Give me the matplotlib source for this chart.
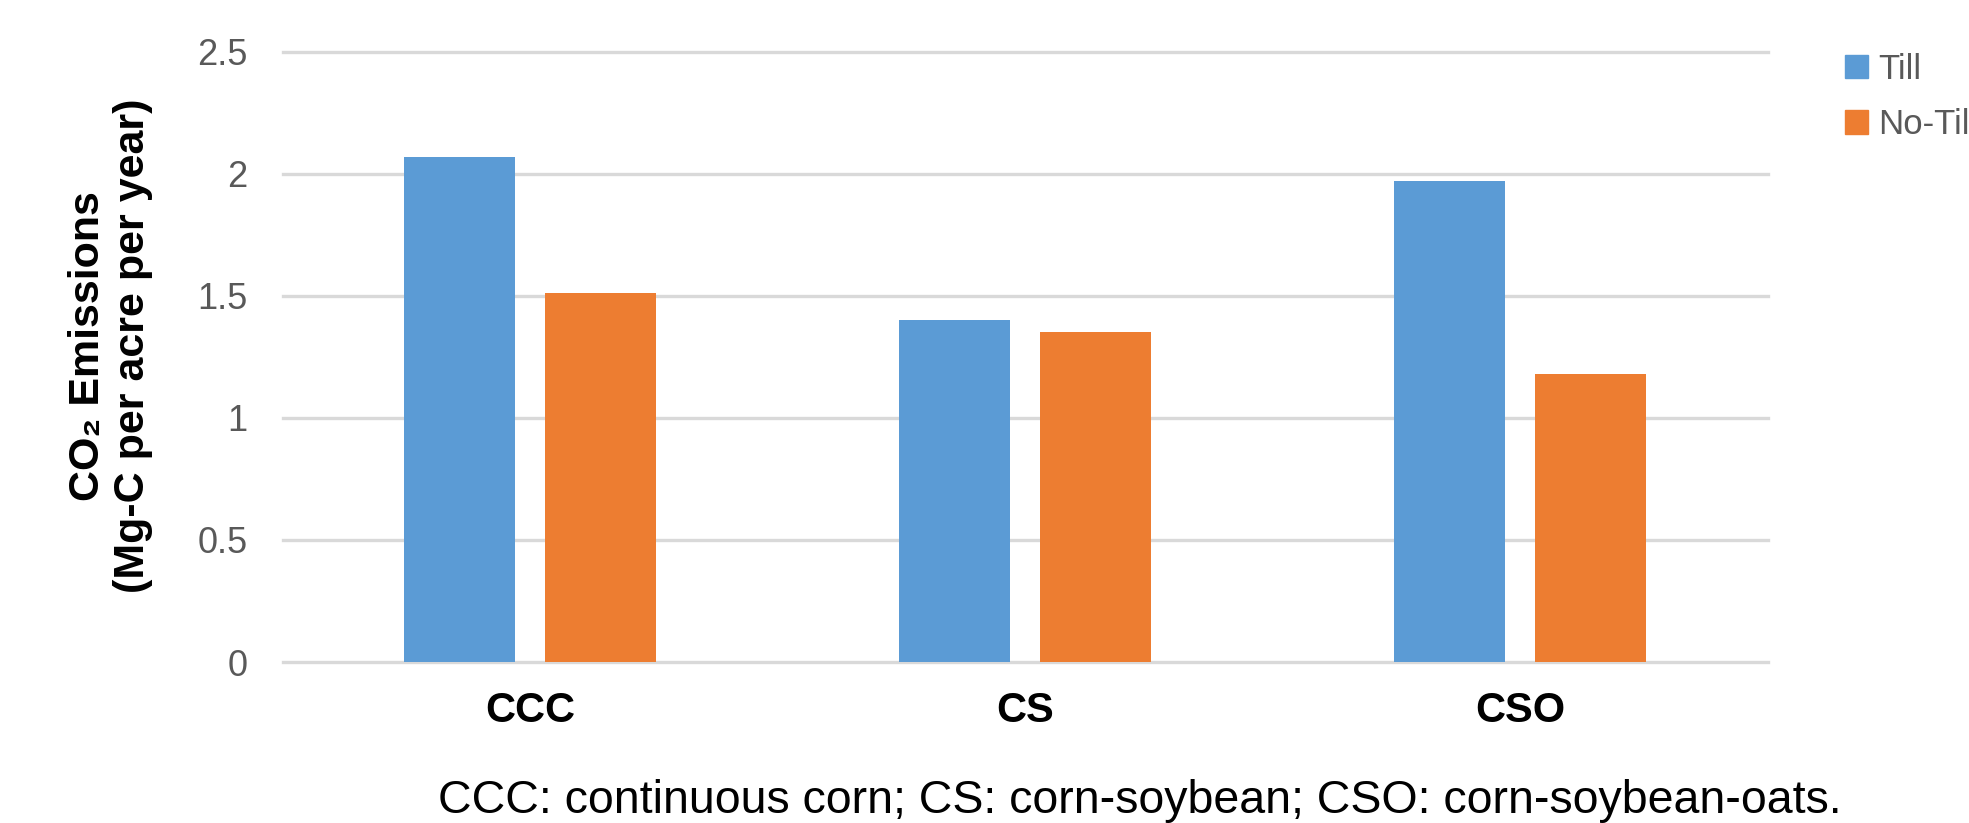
import matplotlib
matplotlib.use("Agg")
import matplotlib.pyplot as plt
from matplotlib.patches import Patch
import numpy as np

plt.rcParams['font.family'] = ['Liberation Sans', 'DejaVu Sans']

# data
systems = ["CCC", "CS", "CSO"]
series = ["Till", "No-Till"]
till = [2.07, 1.40, 1.97]
no_till = [1.51, 1.35, 1.18]
yticks = [0, 0.5, 1, 1.5, 2, 2.5]
ytick_labels = ["0", "0.5", "1", "1.5", "2", "2.5"]
caption = "CCC: continuous corn; CS: corn-soybean; CSO: corn-soybean-oats."

blue = "#5B9BD5"
orange = "#ED7D31"
grid_col = "#D9D9D9"
tick_col = "#595959"

fig = plt.figure(figsize=(19.69, 8.23), dpi=100)
ax = fig.add_axes([0.1435, 0.1956, 0.7544, 0.7418])

x = np.arange(len(systems))
w = 0.224
off = 0.1424
ax.bar(x - off, till, width=w, color=blue, zorder=3)
ax.bar(x + off, no_till, width=w, color=orange, zorder=3)

ax.set_xlim(-0.5, len(systems) - 0.5)
ax.set_ylim(0, 2.5)
ax.set_yticks(yticks)
ax.set_yticklabels(ytick_labels)
ax.set_xticks(x)
ax.set_xticklabels(systems, fontsize=30, fontweight="bold")

for s in ax.spines.values():
    s.set_visible(False)
ax.tick_params(axis="y", length=0, pad=25, labelsize=26, labelcolor=tick_col)
ax.tick_params(axis="x", length=0, pad=21)
ax.yaxis.grid(True, color=grid_col, linewidth=2.4, zorder=0)
ax.set_axisbelow(True)
for gl in ax.yaxis.get_gridlines():
    gl.set_clip_on(False)

fig.text(0.056, 0.58, "CO\u2082 Emissions\n(Mg-C per acre per year)",
         rotation=90, ha="center", va="center", multialignment="center",
         fontsize=31, fontweight="bold", linespacing=1.15)

# legend runs off the right edge like the original
handles = [Patch(color=blue), Patch(color=orange)]
fig.legend(handles, series, loc="upper left", bbox_to_anchor=(0.937, 0.936),
           frameon=False, fontsize=25, labelcolor=tick_col,
           handlelength=0.65, handleheight=0.65, handletextpad=0.3,
           labelspacing=0.65, borderpad=0, borderaxespad=0)

fig.text(0.579, 0.012, caption, ha="center", va="baseline", fontsize=33.5)

fig.savefig("out.png", dpi=100)
